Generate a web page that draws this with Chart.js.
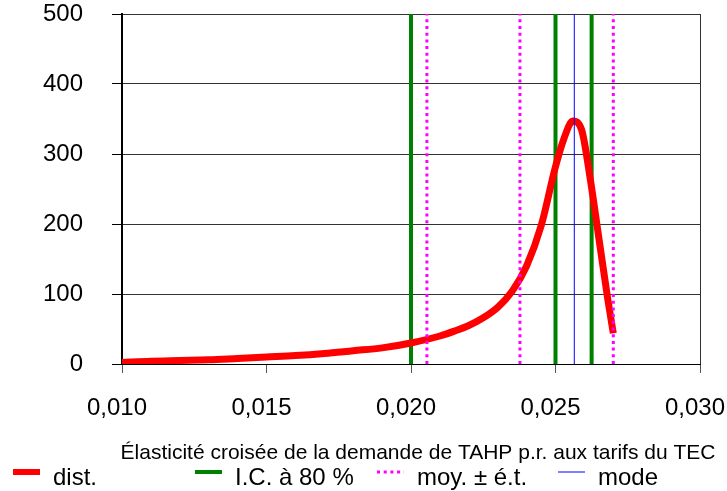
<!DOCTYPE html>
<html>
<head>
<meta charset="utf-8">
<script src="https://cdn.jsdelivr.net/npm/chart.js@4.4.1/dist/chart.umd.min.js"></script>
<style>
  html, body { margin: 0; padding: 0; background: #fff; }
  #chart { display: block; }
</style>
</head>
<body>
<canvas id="chart" width="727" height="491"></canvas>
<script>
// Distribution curve (x = elasticity, y = density)
const elasticite = [0.0100, 0.0110, 0.0120, 0.0130, 0.0140, 0.0150, 0.0160, 0.0170, 0.0180, 0.0190,
  0.0200, 0.0210, 0.0215, 0.0220, 0.0225, 0.0230, 0.0235, 0.0240, 0.0245, 0.0250, 0.0253,
  0.0256, 0.0259, 0.0262, 0.0265, 0.0268, 0.0270];
const densite = [2, 4, 5, 6, 8, 10, 12, 15, 19, 23,
  30, 40, 47, 55, 66, 81, 104, 140, 197, 282, 323,
  347, 335, 265, 180, 95, 44];

// Reference lines
const icBornes = [0.0200, 0.0250, 0.02625];      // I.C. a 80 %
const moyEt = [0.02055, 0.02377, 0.0270];        // moy. - e.t., moy., moy. + e.t.
const modeVal = [0.02565];

const xTicks = [0.010, 0.015, 0.020, 0.025, 0.030];
const yMax = 500;

const axisTitle = "Élasticité croisée de la demande de TAHP p.r. aux tarifs du TEC";
const legendLabels = ["dist.", "I.C. à 80 %", "moy. ± é.t.", "mode"];

const FONT = "'Liberation Sans', Arial, sans-serif";

function vline(x) {
  return [{ x: x, y: 0 }, { x: x, y: yMax }];
}

const datasets = [];

datasets.push({
  label: legendLabels[0],
  data: elasticite.map((x, i) => ({ x: x, y: densite[i] })),
  borderColor: "#ff0000",
  borderWidth: 7,
  pointRadius: 0,
  cubicInterpolationMode: "monotone",
  order: 3
});

icBornes.forEach(x => datasets.push({
  label: legendLabels[1],
  data: vline(x),
  borderColor: "#008000",
  borderWidth: 4,
  pointRadius: 0,
  order: 4
}));

moyEt.forEach(x => datasets.push({
  label: legendLabels[2],
  data: vline(x),
  borderColor: "#ff00ff",
  borderWidth: 3,
  borderDash: [3, 3.7],
  pointRadius: 0,
  order: 1
}));

modeVal.forEach(x => datasets.push({
  label: legendLabels[3],
  data: vline(x),
  borderColor: "#0000ff",
  borderWidth: 1,
  pointRadius: 0,
  order: 2
}));

// title under the x axis + legend row + right border
const extras = {
  id: "extras",
  afterDraw(chart) {
    const ctx = chart.ctx;
    const area = chart.chartArea;
    ctx.save();

    // right border of plot
    ctx.strokeStyle = "#333";
    ctx.lineWidth = 1;
    ctx.beginPath();
    ctx.moveTo(area.right + 0.5, area.top);
    ctx.lineTo(area.right + 0.5, area.bottom);
    ctx.stroke();

    // axis title
    ctx.fillStyle = "#000";
    ctx.font = "21px " + FONT;
    ctx.textAlign = "center";
    ctx.textBaseline = "alphabetic";
    ctx.fillText(axisTitle, 418, 459);

    // legend
    const starts = [13, 195, 377, 558];
    const styles = [
      { color: "#ff0000", width: 6, dash: [] },
      { color: "#008000", width: 4, dash: [] },
      { color: "#ff00ff", width: 3, dash: [3, 3.7] },
      { color: "#8080ff", width: 2, dash: [] }
    ];
    ctx.font = "24px " + FONT;
    ctx.textAlign = "left";
    legendLabels.forEach((lab, i) => {
      const s = styles[i];
      ctx.strokeStyle = s.color;
      ctx.lineWidth = s.width;
      ctx.setLineDash(s.dash);
      ctx.beginPath();
      ctx.moveTo(starts[i], 472);
      ctx.lineTo(starts[i] + 27, 472);
      ctx.stroke();
      ctx.setLineDash([]);
      ctx.fillStyle = "#000";
      ctx.fillText(lab, starts[i] + 40, 485);
    });
    ctx.restore();
  }
};

new Chart(document.getElementById("chart"), {
  type: "line",
  data: { datasets: datasets },
  options: {
    responsive: false,
    animation: false,
    layout: { padding: { left: 0, right: 27, top: 14, bottom: 0 } },
    plugins: {
      legend: { display: false },
      tooltip: { enabled: false }
    },
    scales: {
      x: {
        type: "linear",
        min: xTicks[0],
        max: xTicks[xTicks.length - 1],
        afterBuildTicks: scale => { scale.ticks = xTicks.map(v => ({ value: v })); },
        afterFit: scale => { scale.height = 127; scale.paddingLeft = 0; scale.paddingRight = 0; },
        ticks: {
          font: { family: FONT, size: 24 },
          color: "#000",
          padding: 21,
          labelOffset: -5,
          maxRotation: 0,
          callback: v => v.toFixed(3).replace(".", ",")
        },
        grid: { drawOnChartArea: false, drawTicks: true, tickLength: 9, color: "#555" },
        border: { color: "#000", width: 1 }
      },
      y: {
        min: 0,
        max: yMax,
        ticks: {
          stepSize: 100,
          font: { family: FONT, size: 24 },
          color: "#000",
          padding: 29
        },
        afterFit: scale => { scale.width = 122; scale.paddingTop = 0; scale.paddingBottom = 0; },
        grid: { color: "#333", lineWidth: 1, tickLength: 10, tickColor: "#000" },
        border: { color: "#000", width: 2 }
      }
    }
  },
  plugins: [extras]
});
</script>
</body>
</html>
